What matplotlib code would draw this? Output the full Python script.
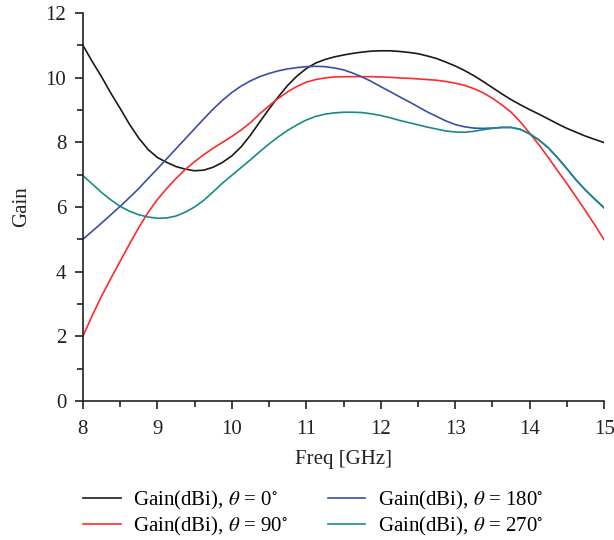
import matplotlib
matplotlib.use("Agg")
import matplotlib.pyplot as plt
from matplotlib.ticker import MultipleLocator

freq = [8.0, 8.125, 8.25, 8.375, 8.5, 8.625, 8.75, 8.875, 9.0, 9.125, 9.25, 9.375,
        9.5, 9.625, 9.75, 9.875, 10.0, 10.125, 10.25, 10.375, 10.5, 10.625, 10.75,
        10.875, 11.0, 11.125, 11.25, 11.375, 11.5, 11.625, 11.75, 11.875, 12.0,
        12.125, 12.25, 12.375, 12.5, 12.625, 12.75, 12.875, 13.0, 13.125, 13.25,
        13.375, 13.5, 13.625, 13.75, 13.875, 14.0, 14.125, 14.25, 14.375, 14.5,
        14.625, 14.75, 14.875, 15.0]

gain_0 = [11.0, 10.5, 10.03, 9.52, 9.05, 8.56, 8.13, 7.78, 7.53, 7.38, 7.25, 7.17,
          7.12, 7.14, 7.23, 7.38, 7.58, 7.86, 8.22, 8.63, 9.03, 9.41, 9.76,
          10.05, 10.28, 10.45, 10.56, 10.64, 10.7, 10.75, 10.79, 10.82, 10.83,
          10.83, 10.81, 10.78, 10.74, 10.67, 10.59, 10.48, 10.36, 10.22, 10.06,
          9.88, 9.69, 9.5, 9.32, 9.16, 9.01, 8.87, 8.72, 8.57, 8.43,
          8.31, 8.19, 8.09, 7.99]
gain_90 = [2.0, 2.64, 3.24, 3.79, 4.32, 4.85, 5.36, 5.83, 6.23, 6.57, 6.88, 7.16,
           7.4, 7.62, 7.82, 8.0, 8.18, 8.38, 8.61, 8.88, 9.13, 9.36, 9.56,
           9.73, 9.86, 9.94, 9.99, 10.02, 10.03, 10.03, 10.03, 10.03, 10.02,
           10.01, 9.99, 9.98, 9.96, 9.94, 9.92, 9.88, 9.83, 9.76, 9.66,
           9.53, 9.36, 9.16, 8.93, 8.63, 8.28, 7.92, 7.53, 7.12, 6.72,
           6.3, 5.88, 5.44, 4.98]
gain_180 = [5.0, 5.25, 5.5, 5.76, 6.02, 6.29, 6.57, 6.88, 7.18, 7.49, 7.8, 8.11,
            8.42, 8.73, 9.03, 9.3, 9.54, 9.74, 9.9, 10.03, 10.13, 10.21, 10.27,
            10.31, 10.34, 10.35, 10.34, 10.3, 10.24, 10.14, 10.02, 9.88, 9.72,
            9.57, 9.41, 9.26, 9.1, 8.94, 8.8, 8.66, 8.55, 8.48, 8.44,
            8.43, 8.44, 8.46, 8.46, 8.4, 8.26, 8.07, 7.83, 7.52, 7.18,
            6.83, 6.52, 6.24, 5.97]
gain_270 = [6.97, 6.71, 6.45, 6.22, 6.02, 5.87, 5.76, 5.69, 5.65, 5.66, 5.72, 5.84,
            6.0, 6.21, 6.47, 6.74, 6.98, 7.22, 7.46, 7.71, 7.95, 8.17, 8.37,
            8.54, 8.69, 8.8, 8.87, 8.91, 8.93, 8.93, 8.92, 8.88, 8.83,
            8.76, 8.68, 8.61, 8.54, 8.47, 8.41, 8.35, 8.32, 8.31, 8.34,
            8.39, 8.43, 8.46, 8.46, 8.4, 8.26, 8.07, 7.83, 7.52, 7.18,
            6.83, 6.52, 6.24, 5.97]

labels = [r"Gain(dBi), $\theta$ = 0$^{\circ}$",
          r"Gain(dBi), $\theta$ = 90$^{\circ}$",
          r"Gain(dBi), $\theta$ = 180$^{\circ}$",
          r"Gain(dBi), $\theta$ = 270$^{\circ}$"]
colors = ["#1a1a1a", "#ff2a2a", "#3a4ea8", "#1a8a86"]

plt.rcParams['font.family'] = ['Liberation Serif', 'DejaVu Serif']
plt.rcParams['mathtext.fontset'] = 'stix'

fig = plt.figure(figsize=(6.14, 5.40), dpi=100)
ax = fig.add_axes([0.135, 0.2574, 0.849, 0.7186])

series = [gain_0, gain_90, gain_180, gain_270]
handles = []
for s, c, l in zip(series, colors, labels):
    h, = ax.plot(freq, s, color=c, lw=1.2, label=l)
    handles.append(h)

ax.set_xlim(8, 15)
ax.set_ylim(0, 12)
ax.xaxis.set_major_locator(MultipleLocator(1))
ax.xaxis.set_minor_locator(MultipleLocator(0.5))
ax.yaxis.set_major_locator(MultipleLocator(2))
ax.yaxis.set_minor_locator(MultipleLocator(1))
for sp in ['top', 'right']:
    ax.spines[sp].set_visible(False)
for sp in ['left', 'bottom']:
    ax.spines[sp].set_linewidth(1.2)
    ax.spines[sp].set_color('#222222')
ax.tick_params(which='major', direction='out', length=6, width=1.2, labelsize=15,
               colors='#222222')
ax.tick_params(axis='x', which='major', pad=7.5)
ax.tick_params(axis='y', which='major', pad=6)
ax.tick_params(which='minor', direction='out', length=4, width=1.2, colors='#222222')
ax.set_xlabel("Freq [GHz]", fontsize=15, color='#222222', labelpad=8)
ax.set_ylabel("Gain", fontsize=15, color='#222222', labelpad=10)

fig.legend(handles, labels, loc='upper left', bbox_to_anchor=(83 / 614, (540 - 489) / 540),
           ncol=2, frameon=False, fontsize=15, handlelength=1.8, columnspacing=1.9,
           labelspacing=0.15, handletextpad=0.6, borderpad=0, borderaxespad=0)

fig.savefig("out.png", dpi=100)
